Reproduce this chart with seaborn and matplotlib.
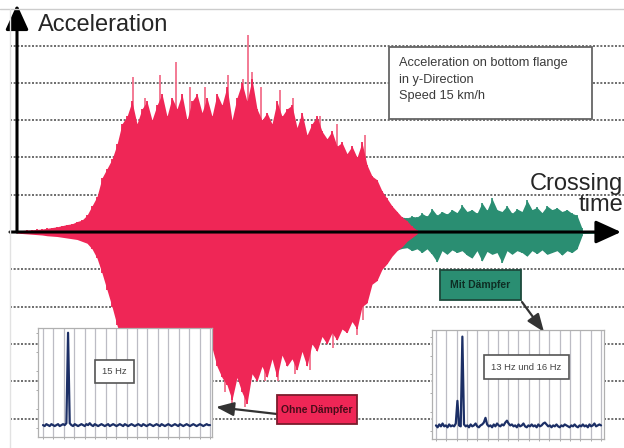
import numpy as np
import matplotlib.pyplot as plt
import seaborn as sns
from matplotlib.patches import Rectangle
from matplotlib.lines import Line2D

sns.set_style("white")
plt.rcParams["font.family"] = ["Liberation Sans", "DejaVu Sans"]

W, H = 624, 448

# crossing signal: spike tips sampled every 0.25 s (acceleration in grid units)
red_start, green_start, step = 0.0, 10.5, 0.25
red_upper = [0.03, 0.04, 0.05, 0.06, 0.07, 0.08, 0.1, 0.12, 0.14, 0.17,
             0.2, 0.22, 0.28, 0.32, 0.45, 0.7, 0.95, 1.45, 1.7, 1.95,
             2.35, 2.9, 3.1, 3.5, 2.9, 3.3, 3.5, 3.0, 3.4, 3.7,
             3.1, 3.6, 3.3, 3.7, 3.0, 3.5, 3.7, 3.2, 3.6, 3.1,
             3.7, 3.4, 3.9, 3.0, 3.6, 4.0, 3.5, 4.1, 3.3, 3.0,
             3.2, 2.9, 3.5, 3.1, 3.3, 3.4, 2.8, 3.2, 2.6, 2.9,
             3.1, 2.7, 2.5, 2.7, 2.3, 2.4, 2.1, 2.3, 2.0, 2.4,
             1.8, 1.5, 1.4, 1.1, 0.9, 0.7, 0.55, 0.4, 0.3, 0.15, 0.05]
red_lower = [-0.03, -0.04, -0.05, -0.06, -0.07, -0.08, -0.1, -0.11, -0.12, -0.14,
             -0.16, -0.18, -0.2, -0.25, -0.3, -0.45, -0.7, -1.1, -1.55, -2.0,
             -2.5, -2.9, -3.1, -3.0, -3.3, -3.2, -3.4, -3.2, -3.5, -3.3,
             -3.4, -3.2, -3.6, -3.3, -3.5, -3.4, -3.6, -3.3, -3.5, -3.1,
             -3.6, -3.9, -4.1, -4.5, -3.9, -4.3, -4.6, -3.8, -4.0, -3.6,
             -3.9, -3.4, -3.9, -3.3, -3.6, -3.4, -3.7, -3.2, -3.6, -3.0,
             -3.2, -2.8, -3.0, -2.7, -2.9, -2.6, -2.7, -2.4, -2.6, -2.0,
             -1.9, -1.4, -1.3, -1.0, -0.85, -0.65, -0.5, -0.4, -0.25, -0.15, -0.05]
red_spike_t = [5.8, 6.4, 7.15, 7.95, 8.65, 9.4, 10.55, 11.3, 11.55, 11.75,
               12.2, 13.15, 13.8, 15.15, 16.0, 17.4]
red_spike_up = [4.15, 3.6, 4.2, 4.56, 3.9, 3.9, 4.2, 4.1, 5.28, 4.3,
                3.9, 3.8, 3.6, 3.1, 2.9, 2.6]
red_dip_t = [10.4, 10.75, 11.4, 12.4, 13.05, 13.9, 14.65, 15.8, 17.0, 17.3]
red_dip = [-4.3, -4.6, -4.7, -4.0, -4.0, -3.8, -3.7, -3.1, -2.75, -2.35]

green_upper = [0.08, 0.1, 0.12, 0.12, 0.14, 0.15, 0.16, 0.18, 0.18, 0.2,
               0.22, 0.22, 0.25, 0.27, 0.28, 0.3, 0.3, 0.32, 0.35, 0.34,
               0.38, 0.4, 0.38, 0.42, 0.4, 0.45, 0.42, 0.44, 0.4, 0.45,
               0.42, 0.4, 0.44, 0.38, 0.42, 0.4, 0.38, 0.42, 0.4, 0.5,
               0.42, 0.62, 0.45, 0.55, 0.48, 0.6, 0.52, 0.72, 0.55, 0.6,
               0.5, 0.78, 0.58, 0.9, 0.6, 0.55, 0.7, 0.5, 0.62, 0.55,
               0.85, 0.6, 0.66, 0.52, 0.7, 0.6, 0.65, 0.55, 0.6, 0.5,
               0.45, 0.1]
green_lower = [-0.06, -0.08, -0.1, -0.1, -0.12, -0.13, -0.15, -0.15, -0.17, -0.18,
               -0.2, -0.22, -0.22, -0.25, -0.26, -0.28, -0.3, -0.3, -0.33, -0.32,
               -0.36, -0.4, -0.38, -0.45, -0.4, -0.48, -0.42, -0.5, -0.44, -0.47,
               -0.42, -0.5, -0.45, -0.4, -0.48, -0.44, -0.42, -0.5, -0.45, -0.55,
               -0.45, -0.6, -0.8, -0.5, -0.6, -0.48, -0.55, -0.5, -0.62, -0.7,
               -0.5, -0.78, -0.52, -0.6, -0.55, -0.82, -0.5, -0.6, -0.5, -0.55,
               -0.65, -0.5, -0.58, -0.48, -0.6, -0.55, -0.5, -0.62, -0.5, -0.55,
               -0.45, -0.1]
# faint residual vibration after the crossing
tail_t = [28.25, 29.2]
tail_amp = [0.04, 0.03]

# spectra (amplitude per 1 Hz bin, 0..100 Hz)
spec_freq = list(range(0, 101))
spec_ohne = [0.03, 0.02, 0.04, 0.03, 0.02, 0.04, 0.03, 0.02, 0.03, 0.04,
             0.02, 0.03, 0.04, 0.03, 0.05, 1.0, 0.05, 0.03, 0.02, 0.04,
             0.03, 0.02, 0.03, 0.04, 0.03, 0.02, 0.04, 0.03, 0.05, 0.03,
             0.02, 0.04, 0.03, 0.02, 0.03, 0.04, 0.03, 0.02, 0.03, 0.04,
             0.02, 0.03, 0.04, 0.03, 0.02, 0.03, 0.04, 0.03, 0.02, 0.04,
             0.03, 0.02, 0.03, 0.04, 0.03, 0.02, 0.03, 0.04, 0.03, 0.02,
             0.04, 0.03, 0.02, 0.03, 0.04, 0.03, 0.02, 0.03, 0.04, 0.03,
             0.02, 0.04, 0.03, 0.02, 0.03, 0.04, 0.03, 0.02, 0.03, 0.04,
             0.03, 0.02, 0.04, 0.03, 0.02, 0.03, 0.04, 0.03, 0.02, 0.03,
             0.04, 0.03, 0.02, 0.03, 0.04, 0.03, 0.02, 0.03, 0.04, 0.03, 0.03]
spec_mit = [0.06, 0.04, 0.07, 0.05, 0.08, 0.05, 0.06, 0.04, 0.07, 0.05,
            0.06, 0.05, 0.08, 0.32, 0.06, 0.05, 1.0, 0.07, 0.05, 0.06,
            0.04, 0.07, 0.05, 0.06, 0.08, 0.05, 0.04, 0.06, 0.07, 0.09,
            0.14, 0.07, 0.05, 0.06, 0.04, 0.07, 0.05, 0.08, 0.06, 0.05,
            0.07, 0.06, 0.09, 0.11, 0.08, 0.06, 0.07, 0.05, 0.06, 0.04,
            0.07, 0.05, 0.06, 0.08, 0.05, 0.04, 0.06, 0.05, 0.07, 0.05,
            0.06, 0.04, 0.07, 0.05, 0.06, 0.08, 0.09, 0.07, 0.05, 0.06,
            0.04, 0.06, 0.05, 0.07, 0.05, 0.04, 0.06, 0.05, 0.07, 0.06,
            0.05, 0.04, 0.06, 0.05, 0.07, 0.05, 0.04, 0.06, 0.05, 0.07,
            0.05, 0.06, 0.04, 0.07, 0.05, 0.06, 0.08, 0.05, 0.06, 0.07, 0.06]

RED = "#ef2656"
RED_LIGHT = "#f2708b"
GREEN = "#2a8e72"
NAVY = "#1c2f66"


def fx(px):
    return px / W


def fy(py):
    return 1 - py / H


fig = plt.figure(figsize=(W / 100, H / 100), dpi=100)
ax = fig.add_axes([0, 0, 1, 1])
ax.set_xlim(-0.85, 30.35)
ax.set_ylim(-5.79, 6.22)
ax.axis("off")

# dotted grid
for lvl in [5, 4, 3, 2, 1, -1, -2, -3, -4, -5]:
    ax.axhline(lvl, xmin=fx(10), xmax=1, color="#555555", lw=1.2,
               ls=(0, (1.2, 1.0)), zorder=1)
fig.add_artist(Line2D([0, 1], [fy(9), fy(9)], color="#cccccc", lw=1))
fig.add_artist(Line2D([fx(10), fx(10)], [fy(9), 0], color="#e2e2e2", lw=1))

red_t = red_start + step * np.arange(len(red_upper))
green_t = green_start + step * np.arange(len(green_upper))

# green (with damper) drawn first, the undamped red crossing lies over it
ax.fill_between(tail_t, [-a for a in tail_amp], tail_amp, color=GREEN, lw=0, zorder=2)
ax.fill_between(green_t, green_lower, green_upper, color=GREEN, lw=0, zorder=2)
ax.vlines(green_t, green_lower, green_upper, color=GREEN, lw=1.2, zorder=2)

# isolated tall spikes sit behind the dense body, only their tips show
ax.vlines(red_spike_t, 0, red_spike_up, color=RED_LIGHT, lw=1.3, zorder=2.5)
ax.vlines(red_dip_t, 0, red_dip, color=RED_LIGHT, lw=1.3, zorder=2.5)
ax.fill_between(red_t, red_lower, red_upper, color=RED, lw=0, zorder=3)
ax.vlines(red_t, red_lower, red_upper, color=RED, lw=1.3, zorder=3)

# axis arrows
arrow = dict(arrowstyle="-|>,head_length=1.1,head_width=0.5", color="black",
             lw=2.2, mutation_scale=14, shrinkA=0, shrinkB=0)
ax.annotate("", xy=(30.2, 0), xytext=(-0.35, 0), arrowprops=arrow, zorder=6)
ax.annotate("", xy=(0, 6.1), xytext=(0, 0), arrowprops=arrow, zorder=6)

fig.text(fx(38), fy(31), "Acceleration", fontsize=17, ha="left", va="baseline")
fig.text(fx(623), fy(211), "Crossing\ntime", fontsize=17, ha="right",
         va="baseline", linespacing=0.95, multialignment="right")

# info box
fig.add_artist(Rectangle((fx(389), fy(119)), fx(592) - fx(389), fy(47) - fy(119),
                         transform=fig.transFigure, facecolor="white",
                         edgecolor="#666666", lw=1.3, zorder=7))
fig.text(fx(399), fy(57), "Acceleration on bottom flange\nin y-Direction\nSpeed 15 km/h",
         fontsize=9.2, color="#3a3a3a", va="top", ha="left",
         linespacing=1.5, zorder=8)

# labelled boxes
for x0, y0, x1, y1, face, edge, tcol, label in [
        (277, 395, 357, 424, RED, "#7a1c2c", "#4a0c1a", "Ohne Dämpfer"),
        (440, 270, 521, 300, GREEN, "#1d4a3c", "#0e2e24", "Mit Dämpfer")]:
    fig.add_artist(Rectangle((fx(x0), fy(y1)), fx(x1) - fx(x0), fy(y0) - fy(y1),
                             transform=fig.transFigure, facecolor=face,
                             edgecolor=edge, lw=1.3, zorder=7))
    fig.text(fx((x0 + x1) / 2), fy((y0 + y1) / 2), label, fontsize=7.5,
             weight="bold", color=tcol, ha="center", va="center", zorder=8)

link = dict(arrowstyle="-|>,head_length=0.9,head_width=0.35", color="#333333",
            lw=1.6, mutation_scale=12, shrinkA=0, shrinkB=0)
ax.annotate("", xy=(fx(216), fy(407)), xycoords="figure fraction",
            xytext=(fx(277), fy(414)), textcoords="figure fraction",
            arrowprops=link)
ax.annotate("", xy=(fx(544), fy(332)), xycoords="figure fraction",
            xytext=(fx(522), fy(302)), textcoords="figure fraction",
            arrowprops=link)


def spectrum_inset(box, xlim, ylim, amp, label, label_pos):
    x0, y0, x1, y1 = box
    ia = fig.add_axes([fx(x0), fy(y1), fx(x1) - fx(x0), fy(y0) - fy(y1)])
    ia.set_zorder(9)
    ia.set_facecolor("white")
    sns.lineplot(x=spec_freq, y=amp, ax=ia, color=NAVY, lw=1.6)
    ia.set_xlim(*xlim)
    ia.set_ylim(*ylim)
    ia.set_xticks(np.arange(0, 101, 6.25))
    ia.set_yticks([0, 0.2, 0.4, 0.6, 0.8, 1.0])
    ia.grid(axis="x", color="#bcbcc4", lw=0.9)
    ia.tick_params(length=1.5, width=0.5, labelleft=False, labelbottom=False,
                   left=True, bottom=True, colors="#888888")
    for sp in ia.spines.values():
        sp.set_color("#b0b0b0")
        sp.set_linewidth(0.9)
    ia.text(label_pos[0], label_pos[1], label, transform=ia.transAxes,
            fontsize=6.8, color="#444444", ha="center", va="center",
            bbox=dict(boxstyle="square,pad=0.75", facecolor="white",
                      edgecolor="#555555", lw=1.2))
    return ia


spectrum_inset((38, 328, 212, 437), (-3, 101.2), (-0.095, 1.05), spec_ohne,
               "15 Hz", (0.44, 0.60))
spectrum_inset((432, 330, 604, 439), (-2.4, 101.8), (-0.084, 1.07), spec_mit,
               "13 Hz und 16 Hz", (0.55, 0.66))

fig.savefig("out.png", dpi=100)
